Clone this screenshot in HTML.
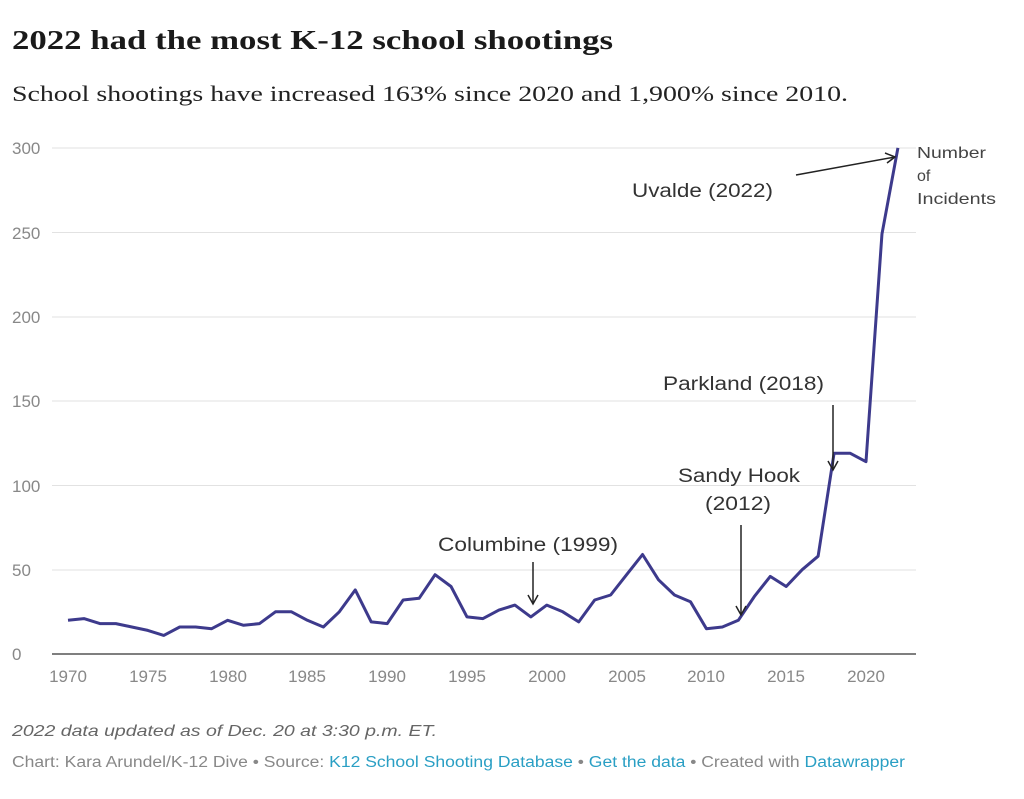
<!DOCTYPE html>
<html><head><meta charset="utf-8"><style>
body{margin:0;background:#fff;width:1024px;height:794px;overflow:hidden;font-family:"Liberation Sans",sans-serif}
</style></head><body>
<svg width="1024" height="794" xmlns="http://www.w3.org/2000/svg" font-family="Liberation Sans, sans-serif">
<text x="12" y="49" font-family="Liberation Serif, serif" font-weight="bold" font-size="27" fill="#1a1a1a" textLength="601" lengthAdjust="spacingAndGlyphs">2022 had the most K-12 school shootings</text>
<text x="12" y="101" font-family="Liberation Serif, serif" font-size="22" fill="#222" textLength="836" lengthAdjust="spacingAndGlyphs">School shootings have increased 163% since 2020 and 1,900% since 2010.</text>
<g stroke="#e2e2e2" stroke-width="1">
<line x1="52" x2="916" y1="148" y2="148"/><line x1="52" x2="916" y1="232.5" y2="232.5"/>
<line x1="52" x2="916" y1="317" y2="317"/><line x1="52" x2="916" y1="401" y2="401"/>
<line x1="52" x2="916" y1="485.5" y2="485.5"/><line x1="52" x2="916" y1="570" y2="570"/>
</g>
<line x1="52" x2="916" y1="654" y2="654" stroke="#333" stroke-width="1.2"/>
<g font-size="17" fill="#888">
<text x="12" y="154">300</text><text x="12" y="239">250</text><text x="12" y="323">200</text>
<text x="12" y="407">150</text><text x="12" y="492">100</text><text x="12" y="576">50</text><text x="12" y="660">0</text>
</g>
<g font-size="17" fill="#888" text-anchor="middle">
<text x="68" y="682">1970</text><text x="148" y="682">1975</text><text x="228" y="682">1980</text>
<text x="307" y="682">1985</text><text x="387" y="682">1990</text><text x="467" y="682">1995</text>
<text x="547" y="682">2000</text><text x="627" y="682">2005</text><text x="706" y="682">2010</text>
<text x="786" y="682">2015</text><text x="866" y="682">2020</text>
</g>
<polyline fill="none" stroke="#3d3a8c" stroke-width="3" stroke-linejoin="round" points="68,620.3 83.96,618.6 99.92,623.6 115.88,623.6 131.84,627 147.8,630.4 163.76,635.4 179.72,627 195.68,627 211.64,628.7 227.6,620.3 243.56,625.3 259.52,623.6 275.48,611.8 291.44,611.8 307.4,620.3 323.36,627 339.32,611.8 355.28,589.9 371.24,621.9 387.2,623.6 403.16,600 419.12,598.3 435.08,574.7 451.04,586.5 467,616.9 482.96,618.6 498.92,610.1 514.88,605.1 530.84,616.9 546.8,605.1 562.76,611.8 578.72,621.9 594.68,600 610.64,595 626.6,574.7 642.56,554.5 658.52,579.8 674.48,595 690.44,601.7 706.4,628.7 722.36,627 738.32,620.3 754.28,596.6 770.24,576.4 786.2,586.5 802.16,569.7 818.12,556.2 834.08,453.2 850.04,453.2 866,461.7 881.96,234 897.92,147.9"/>
<g font-size="19" fill="#333" lengthAdjust="spacingAndGlyphs">
<text x="632" y="197" textLength="141" lengthAdjust="spacingAndGlyphs">Uvalde (2022)</text>
<text x="663" y="390" textLength="161" lengthAdjust="spacingAndGlyphs">Parkland (2018)</text>
<text x="678" y="482" textLength="122" lengthAdjust="spacingAndGlyphs">Sandy Hook</text>
<text x="705" y="510" textLength="66" lengthAdjust="spacingAndGlyphs">(2012)</text>
<text x="438" y="551" textLength="180" lengthAdjust="spacingAndGlyphs">Columbine (1999)</text>
</g>
<g font-size="16" fill="#444">
<text x="917" y="158" textLength="69" lengthAdjust="spacingAndGlyphs">Number</text><text x="917" y="181">of</text><text x="917" y="204" textLength="79" lengthAdjust="spacingAndGlyphs">Incidents</text>
</g>
<g stroke="#222" stroke-width="1.5" fill="none">
<line x1="796" y1="175" x2="895" y2="157"/><polyline points="885,153 895,157 887,163"/>
<line x1="833" y1="405" x2="833" y2="470"/><polyline points="828,461 833,470 838,461"/>
<line x1="741" y1="525" x2="741" y2="615"/><polyline points="736,606 741,615 746,606"/>
<line x1="533" y1="562" x2="533" y2="604"/><polyline points="528,595 533,604 538,595"/>
</g>
<text x="12" y="736" font-size="16" font-style="italic" fill="#666" textLength="425" lengthAdjust="spacingAndGlyphs">2022 data updated as of Dec. 20 at 3:30 p.m. ET.</text>
<text x="12" y="767" font-size="15.5" fill="#888" textLength="893" lengthAdjust="spacingAndGlyphs">Chart: Kara Arundel/K-12 Dive • Source: <tspan fill="#2a9fc4">K12 School Shooting Database</tspan> • <tspan fill="#2a9fc4">Get the data</tspan> • Created with <tspan fill="#2a9fc4">Datawrapper</tspan></text>
</svg>
</body></html>
